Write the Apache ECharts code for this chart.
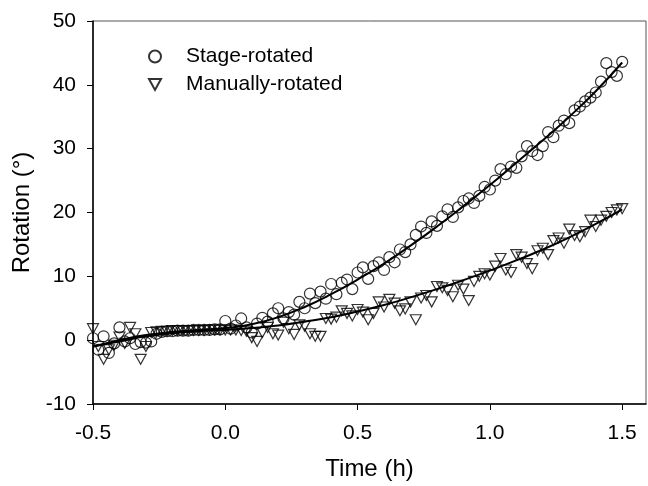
<!DOCTYPE html>
<html>
<head>
<meta charset="utf-8">
<script src="https://cdn.jsdelivr.net/npm/echarts@6/dist/echarts.min.js"></script>
<style>
  html, body { margin: 0; padding: 0; background: #fff; }
  #main { width: 648px; height: 486px; }
</style>
</head>
<body>
<div id="main"></div>
<script>
// sample times (h)
var times = [-0.50, -0.48, -0.46, -0.44, -0.42, -0.40, -0.38, -0.36, -0.34, -0.32,
    -0.30, -0.28, -0.26, -0.24, -0.22, -0.20, -0.18, -0.16, -0.14, -0.12,
    -0.10, -0.08, -0.06, -0.04, -0.02, 0.00, 0.02, 0.04, 0.06, 0.08,
    0.10, 0.12, 0.14, 0.16, 0.18, 0.20, 0.22, 0.24, 0.26, 0.28,
    0.30, 0.32, 0.34, 0.36, 0.38, 0.40, 0.42, 0.44, 0.46, 0.48,
    0.50, 0.52, 0.54, 0.56, 0.58, 0.60, 0.62, 0.64, 0.66, 0.68,
    0.70, 0.72, 0.74, 0.76, 0.78, 0.80, 0.82, 0.84, 0.86, 0.88,
    0.90, 0.92, 0.94, 0.96, 0.98, 1.00, 1.02, 1.04, 1.06, 1.08,
    1.10, 1.12, 1.14, 1.16, 1.18, 1.20, 1.22, 1.24, 1.26, 1.28,
    1.30, 1.32, 1.34, 1.36, 1.38, 1.40, 1.42, 1.44, 1.46, 1.48, 1.50];

var stageRotated = [0.3, -1.5, 0.6, -2.0, -0.5, 2.0, -0.2, 0.3, -0.6, -0.3,
    -0.4, -0.2, 1.0, 1.3, 1.4, 1.4, 1.5, 1.5, 1.5, 1.6,
    1.6, 1.6, 1.6, 1.7, 1.7, 3.0, 1.8, 2.3, 3.4, 2.0,
    1.2, 2.6, 3.5, 2.9, 4.2, 5.0, 3.4, 4.4, 4.0, 6.0,
    5.0, 7.3, 5.8, 7.6, 6.5, 8.8, 7.2, 9.0, 9.5, 8.0,
    10.6, 11.4, 9.6, 11.6, 12.2, 11.0, 13.0, 12.2, 14.2, 13.8,
    15.0, 16.5, 17.8, 16.8, 18.6, 17.9, 19.4, 20.5, 19.3, 20.8,
    21.8, 22.2, 21.5, 22.6, 24.0, 23.6, 25.0, 26.8, 26.0, 27.2,
    27.0, 28.8, 30.4, 29.6, 29.0, 30.4, 32.6, 31.8, 33.6, 34.4,
    34.0, 36.0, 36.6, 37.4, 38.0, 38.8, 40.5, 43.4, 42.0, 41.4, 43.6];

var manuallyRotated = [1.8, -1.0, -3.0, -1.5, -0.8, 0.5, -0.5, 2.0, 1.0, -3.0,
    -1.0, 1.2, 1.3, 1.4, 1.4, 1.5, 1.5, 1.5, 1.5, 1.5,
    1.5, 1.5, 1.6, 1.6, 1.6, 1.6, 1.6, 1.6, 1.5, 1.4,
    0.4, -0.2, 1.2, 2.0, 1.0, 0.8, 2.8, 1.8, 0.9, 2.4,
    2.2, 1.0, 0.6, 0.6, 3.4, 3.3, 3.6, 4.6, 4.2, 3.8,
    4.8, 4.4, 3.2, 4.2, 6.0, 5.2, 6.4, 5.8, 4.6, 4.9,
    6.0, 3.2, 6.6, 7.0, 6.0, 8.4, 8.2, 7.8, 6.8, 8.6,
    8.0, 6.2, 9.2, 10.0, 10.4, 10.2, 11.6, 12.8, 11.0, 10.6,
    13.4, 13.0, 12.0, 11.2, 14.0, 14.4, 13.4, 15.6, 16.0, 15.2,
    17.4, 16.4, 16.2, 17.0, 18.8, 17.8, 18.8, 19.4, 20.0, 20.4, 20.6];

// fitted curves
var fitTimes = [-0.5, -0.4, -0.3, -0.2, -0.1, 0.0, 0.1, 0.2, 0.3, 0.4, 0.5,
    0.6, 0.7, 0.8, 0.9, 1.0, 1.1, 1.2, 1.3, 1.4, 1.5];
var stageFit = [-1.0, 0.0, 0.8, 1.3, 1.6, 1.9, 2.5, 3.6, 5.2, 7.2, 9.5,
    12.0, 14.8, 17.8, 21.0, 24.3, 27.8, 31.3, 35.0, 39.0, 43.5];
var manualFit = [-1.0, -0.2, 0.6, 1.1, 1.4, 1.6, 1.9, 2.3, 2.9, 3.6, 4.5,
    5.5, 6.7, 8.0, 9.4, 10.9, 12.5, 14.2, 16.1, 18.2, 20.5];

var xTicks = [-0.5, 0.0, 0.5, 1.0, 1.5];

function pairs(xs, ys) {
    var out = [];
    for (var i = 0; i < xs.length; i++) {
        out.push([xs[i], ys[i]]);
    }
    return out;
}

var font = 'Liberation Sans, Arial, sans-serif';
var downTriangle = 'path://M0,0L10,0L5,9Z';
var myChart = echarts.init(document.getElementById('main'));

var option = {
    animation: false,
    backgroundColor: '#fff',
    grid: {
        left: 93, top: 21, right: 2, bottom: 77,
        show: true, borderColor: '#555', borderWidth: 1
    },
    legend: {
        orient: 'vertical',
        left: 143, top: 41,
        itemWidth: 12, itemHeight: 12, itemGap: 7,
        data: [
            { name: 'Stage-rotated', icon: 'circle' },
            { name: 'Manually-rotated', icon: downTriangle }
        ],
        textStyle: { fontFamily: font, fontSize: 21, color: '#000', padding: [0, 0, 0, 20] }
    },
    xAxis: {
        type: 'value',
        min: -0.5, max: 1.59,
        interval: 0.5,
        name: 'Time (h)',
        nameLocation: 'middle',
        nameGap: 53,
        nameTextStyle: { fontFamily: font, fontSize: 24, color: '#000' },
        splitLine: { show: false },
        axisLine: { onZero: false, lineStyle: { color: '#000', width: 1.5 } },
        axisTick: { length: 6, customValues: xTicks, lineStyle: { color: '#000' } },
        axisLabel: {
            customValues: xTicks,
            margin: 19, fontFamily: font, fontSize: 21, color: '#000',
            formatter: function (v) { return v.toFixed(1); }
        }
    },
    yAxis: {
        type: 'value',
        min: -10, max: 50,
        interval: 10,
        name: 'Rotation (°)',
        nameLocation: 'middle',
        nameGap: 56,
        nameTextStyle: { fontFamily: font, fontSize: 24, color: '#000' },
        splitLine: { show: false },
        axisLine: { onZero: false, lineStyle: { color: '#000', width: 1.5 } },
        axisTick: { length: 6, lineStyle: { color: '#000' } },
        axisLabel: { margin: 17, fontFamily: font, fontSize: 21, color: '#000' }
    },
    series: [
        {
            name: 'Stage-rotated',
            type: 'scatter',
            symbol: 'circle',
            symbolSize: 11,
            itemStyle: { color: 'rgba(255,255,255,0)', borderColor: '#000', borderWidth: 1.2 },
            data: pairs(times, stageRotated),
            z: 2
        },
        {
            name: 'Manually-rotated',
            type: 'scatter',
            symbol: downTriangle,
            symbolSize: [11, 10],
            itemStyle: { color: 'rgba(255,255,255,0)', borderColor: '#000', borderWidth: 1.2 },
            data: pairs(times, manuallyRotated),
            z: 2
        },
        {
            name: 'stage fit',
            type: 'line',
            smooth: true,
            showSymbol: false,
            lineStyle: { color: '#000', width: 2 },
            data: pairs(fitTimes, stageFit),
            z: 3
        },
        {
            name: 'manual fit',
            type: 'line',
            smooth: true,
            showSymbol: false,
            lineStyle: { color: '#000', width: 2 },
            data: pairs(fitTimes, manualFit),
            z: 3
        }
    ]
};

myChart.setOption(option);
</script>
</body>
</html>
